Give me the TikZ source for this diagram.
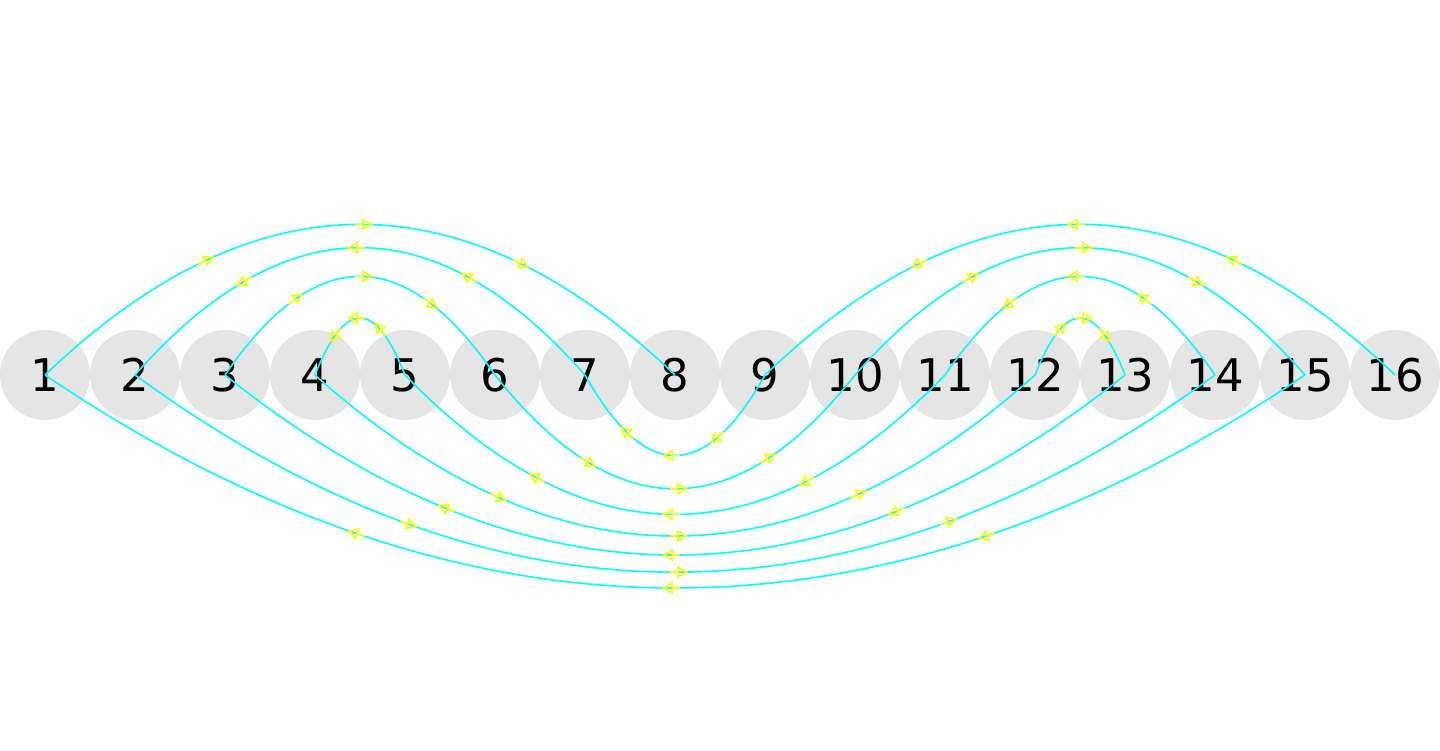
\documentclass[tikz,border=0pt]{standalone}
\usepackage{fontspec}
\setmainfont{DejaVu Sans}
\usetikzlibrary{arrows.meta}
\definecolor{edgecyan}{RGB}{0,255,255}
\definecolor{markyellow}{RGB}{255,255,0}
\tikzset{
  vertex/.style={circle, fill=black!10, minimum size=90pt, inner sep=0pt, text=black,
    font=\fontsize{45pt}{54pt}\selectfont},
  edgeline/.style={draw=edgecyan, line width=1.6pt},
  yarrow/.pic={\draw[markyellow, line width=1.7pt, -{Triangle[open,length=11pt,width=12pt]}] (-5pt,0pt) -- (13pt,0pt);},
  allow upside down
}
\newcommand\myedge[3]{%
  \draw[edgeline] (n#1.center) .. controls +({(#2-#1)*30},{#3*8*sqrt(abs(#2-#1)*90)}) and +({(#1-#2)*30},{#3*8*sqrt(abs(#2-#1)*90)}) .. (n#2.center)
    pic[pos=0.25,sloped]{yarrow} pic[pos=0.5,sloped]{yarrow} pic[pos=0.75,sloped]{yarrow};}
\begin{document}
\begin{tikzpicture}[x=1pt,y=1pt]
\useasboundingbox (0,0) rectangle (1440,751);
\foreach \i in {1,...,16} \node[vertex] (n\i) at ({45+90*(\i-1)},376) {\i};
\myedge{1}{8}{1}
\myedge{7}{2}{1}
\myedge{3}{6}{1}
\myedge{5}{4}{1}
\myedge{16}{9}{1}
\myedge{10}{15}{1}
\myedge{14}{11}{1}
\myedge{12}{13}{1}
\myedge{9}{7}{-1}
\myedge{6}{10}{-1}
\myedge{11}{5}{-1}
\myedge{4}{12}{-1}
\myedge{13}{3}{-1}
\myedge{2}{14}{-1}
\myedge{15}{1}{-1}
\end{tikzpicture}
\end{document}
